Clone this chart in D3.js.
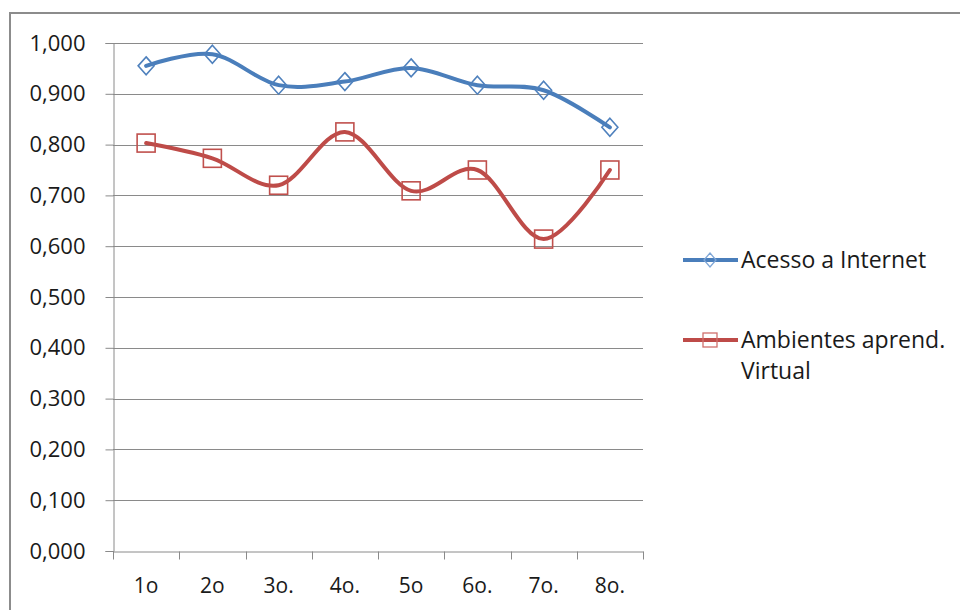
<!DOCTYPE html>
<html>
  <head>
    <meta charset="utf-8">
    <title>acesso</title>
    <style>
      body { margin: 0; background: #fff; }
      text { font-family: "Open Sans", Lato, sans-serif; fill: #1a1a1a; }
    </style>
  </head>
  <body>
    <script src="https://cdn.jsdelivr.net/npm/d3@7/dist/d3.min.js"></script>
    <script>
      var categories = ["1o", "2o", "3o.", "4o.", "5o", "6o.", "7o.", "8o."];
      var acesso = [0.955, 0.978, 0.917, 0.924, 0.951, 0.917, 0.907, 0.834];
      var ambientes = [0.803, 0.773, 0.720, 0.825, 0.709, 0.750, 0.614, 0.750];
      var yTicks = [0, 0.1, 0.2, 0.3, 0.4, 0.5, 0.6, 0.7, 0.8, 0.9, 1.0];
      var legendNames = [["Acesso a Internet"], ["Ambientes aprend.", "Virtual"]];

      var width = 960, height = 610;
      var svg = d3.select("body").append("svg")
                  .attr("width", width)
                  .attr("height", height);

      // outer frame, runs off the page on right and bottom
      svg.append("rect")
         .attr("x", 10).attr("y", 13)
         .attr("width", 1200).attr("height", 800)
         .attr("fill", "none")
         .attr("stroke", "#8c8c8c")
         .attr("stroke-width", 2);

      var x = d3.scaleBand()
                .domain(categories)
                .range([113, 643]);

      var y = d3.scaleLinear()
                .domain([0, 1])
                .range([551, 43]);

      var fmt = function(d) { return d3.format(".3f")(d).replace(".", ","); };

      // gridlines
      svg.append("g")
         .selectAll("line")
         .data(yTicks.slice(1))
         .enter().append("line")
         .attr("x1", 113).attr("x2", 643)
         .attr("y1", function(d) { return Math.round(y(d)) + 0.5; })
         .attr("y2", function(d) { return Math.round(y(d)) + 0.5; })
         .attr("stroke", "#8a8a8a");

      var yAxis = svg.append("g")
         .attr("transform", "translate(113.5,0)")
         .call(d3.axisLeft(y).tickValues(yTicks).tickFormat(fmt).tickSize(8).tickPadding(20));
      yAxis.select(".domain").attr("stroke", "#8a8a8a");
      yAxis.selectAll(".tick line").attr("stroke", "#8a8a8a");
      yAxis.selectAll("text").attr("font-size", 22).attr("fill", "#1a1a1a")
           .style("font-family", "'Open Sans', sans-serif");

      var xAxis = svg.append("g")
         .attr("transform", "translate(0,551.5)")
         .call(d3.axisBottom(x).tickSize(0).tickPadding(27));
      xAxis.select(".domain").attr("stroke", "#8a8a8a");
      xAxis.selectAll("text").attr("font-size", 21).attr("fill", "#1a1a1a")
           .style("font-family", "'Open Sans', sans-serif");
      // category boundary ticks
      xAxis.selectAll(".bound")
           .data(categories.concat(["end"]))
           .enter().append("line")
           .attr("x1", function(d, i) { return Math.round(113 + i * x.step()) + 0.5; })
           .attr("x2", function(d, i) { return Math.round(113 + i * x.step()) + 0.5; })
           .attr("y1", 0).attr("y2", 8)
           .attr("stroke", "#8a8a8a");

      var cx = function(d, i) { return x(categories[i]) + x.bandwidth() / 2; };
      var line = d3.line()
                   .x(cx)
                   .y(function(d) { return y(d); })
                   .curve(d3.curveCardinal.tension(0));

      var series = [
        { values: acesso, color: "#4a7ebb", marker: "#4f81bd", shape: "diamond" },
        { values: ambientes, color: "#be4b48", marker: "#c0504d", shape: "square" }
      ];

      function marker(g, shape, color, px, py) {
        if (shape === "diamond") {
          g.append("path")
           .attr("d", "M" + px + "," + (py - 9) + "L" + (px + 8) + "," + py +
                      "L" + px + "," + (py + 9) + "L" + (px - 8) + "," + py + "Z")
           .attr("fill", "none").attr("stroke", color).attr("stroke-width", 1.6);
        } else {
          g.append("rect")
           .attr("x", px - 9).attr("y", py - 9)
           .attr("width", 18).attr("height", 18)
           .attr("fill", "none").attr("stroke", color).attr("stroke-width", 1.6);
        }
      }

      series.forEach(function(s) {
        svg.append("path")
           .attr("d", line(s.values))
           .attr("fill", "none")
           .attr("stroke", s.color)
           .attr("stroke-width", 4)
           .attr("stroke-linecap", "round")
           .attr("stroke-linejoin", "round");
        var g = svg.append("g");
        s.values.forEach(function(v, i) {
          marker(g, s.shape, s.marker, cx(v, i), y(v));
        });
      });

      // legend
      var legendY = [260, 340];
      series.forEach(function(s, k) {
        var ly = legendY[k];
        var g = svg.append("g");
        g.append("line")
         .attr("x1", 683).attr("x2", 738)
         .attr("y1", ly).attr("y2", ly)
         .attr("stroke", s.color).attr("stroke-width", 4);
        if (s.shape === "diamond") {
          g.append("path")
           .attr("d", "M710," + (ly - 7) + "L716," + ly + "L710," + (ly + 7) + "L704," + ly + "Z")
           .attr("fill", "none").attr("stroke", "#7fa6d6").attr("stroke-width", 1.3);
        } else {
          g.append("rect")
           .attr("x", 703).attr("y", ly - 7).attr("width", 14).attr("height", 14)
           .attr("fill", "none").attr("stroke", "#d0706d").attr("stroke-width", 1.3);
        }
        legendNames[k].forEach(function(t, j) {
          g.append("text")
           .attr("x", 741).attr("y", ly + 8 + j * 31)
           .attr("font-size", 23)
           .text(t);
        });
      });
    </script>
  </body>
</html>
